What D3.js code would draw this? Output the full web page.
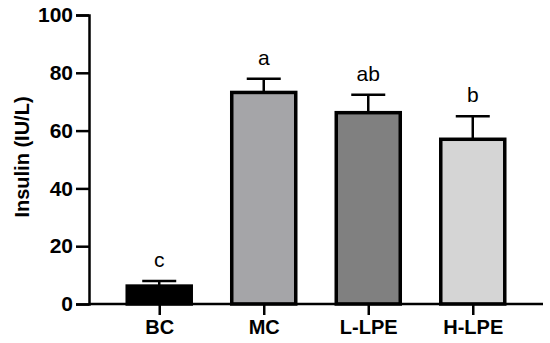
<!DOCTYPE html>
<html>
<head>
<meta charset="utf-8">
<script src="https://cdn.jsdelivr.net/npm/d3@7"></script>
<style>
  body { margin: 0; background: #fff; }
  text { font-family: Arial, "Liberation Sans", sans-serif; }
</style>
</head>
<body>
<div id="chart"></div>
<script>
// data
const groups = ['BC', 'MC', 'L-LPE', 'H-LPE'];
const means = [6.2, 73.2, 66.2, 57.0];
const errors = [1.8, 4.7, 6.2, 8.0];
const letters = ['c', 'a', 'ab', 'b'];
const fills = ['#000000', '#a5a5a8', '#808080', '#d5d5d5'];
const yTicks = [0, 20, 40, 60, 80, 100];

const width = 550, height = 343;
const plotLeft = 89, plotRight = 543, plotTop = 15, plotBottom = 304;

const svg = d3.select('#chart')
  .append('svg')
  .attr('width', width)
  .attr('height', height);

const x = d3.scalePoint().domain(groups).range([plotLeft, plotRight]).padding(0.672);
const y = d3.scaleLinear().domain([0, 100]).range([plotBottom, plotTop]);
const barW = 64;

// bars
svg.append('g')
  .selectAll('rect')
  .data(groups)
  .join('rect')
  .attr('x', d => x(d) - barW / 2)
  .attr('width', barW)
  .attr('y', (d, i) => y(means[i]))
  .attr('height', (d, i) => y(0) - y(means[i]))
  .attr('fill', (d, i) => fills[i])
  .attr('stroke', '#000')
  .attr('stroke-width', 3.5);

// error bars (upper only)
const err = svg.append('g').attr('stroke', '#000').attr('stroke-width', 2.5);
groups.forEach((g, i) => {
  err.append('line')
    .attr('x1', x(g)).attr('x2', x(g))
    .attr('y1', y(means[i])).attr('y2', y(means[i] + errors[i]));
  err.append('line')
    .attr('x1', x(g) - 17).attr('x2', x(g) + 17)
    .attr('y1', y(means[i] + errors[i])).attr('y2', y(means[i] + errors[i]));
});

// significance letters
svg.append('g')
  .selectAll('text')
  .data(groups)
  .join('text')
  .attr('x', d => x(d))
  .attr('y', (d, i) => y(means[i] + errors[i]) - 14)
  .attr('text-anchor', 'middle')
  .style('font-size', '21px')
  .text((d, i) => letters[i]);

// y axis
const yAxis = svg.append('g')
  .attr('transform', `translate(${plotLeft},0)`)
  .call(d3.axisLeft(y).tickValues(yTicks).tickSize(13).tickPadding(3));
yAxis.select('.domain').attr('stroke-width', 2.5);
yAxis.selectAll('.tick line').attr('stroke-width', 2.5);
yAxis.selectAll('.tick text')
  .style('font-size', '21px').style('font-weight', 'bold').attr('fill', '#000');

// x axis
const xAxis = svg.append('g')
  .attr('transform', `translate(0,${plotBottom})`)
  .call(d3.axisBottom(x).tickSize(11).tickPadding(5).tickSizeOuter(0));
xAxis.select('.domain').attr('stroke-width', 2.5).attr('d', `M${plotLeft},0H${plotRight}`);
xAxis.selectAll('.tick line').attr('stroke-width', 2.5);
xAxis.selectAll('.tick text')
  .style('font-size', '20px').style('font-weight', 'bold').attr('fill', '#000');

// y axis title
svg.append('text')
  .attr('transform', `translate(29,157) rotate(-90)`)
  .attr('text-anchor', 'middle')
  .style('font-size', '20px')
  .style('font-weight', 'bold')
  .text('Insulin (IU/L)');
</script>
</body>
</html>
